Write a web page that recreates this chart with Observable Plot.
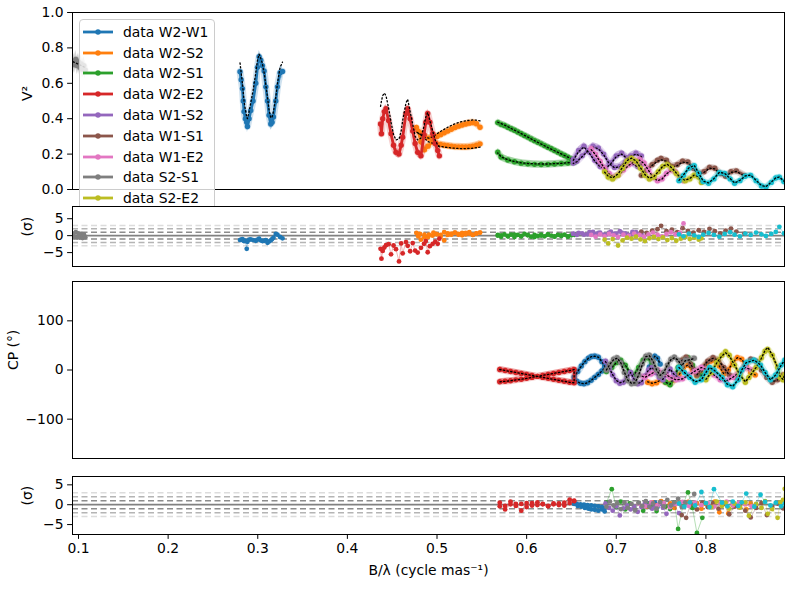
<!DOCTYPE html>
<html><head><meta charset="utf-8">
<script src="https://cdn.jsdelivr.net/npm/d3@7"></script>
<script src="https://cdn.jsdelivr.net/npm/@observablehq/plot@0.6"></script>
<style>
body{margin:0;background:#fff;}
#wrap{position:relative;width:800px;height:600px;font-family:"DejaVu Sans",sans-serif;overflow:hidden;}
</style></head><body><div id="wrap"></div>
<script>
// ---------------- data ----------------
const baselines = ["W2-W1","W2-S2","W2-S1","W2-E2","W1-S2","W1-S1","W1-E2","S2-S1","S2-E2","S1-E2"];
const colors = ["#1f77b4","#ff7f0e","#2ca02c","#d62728","#9467bd","#8c564b","#e377c2","#7f7f7f","#bcbd22","#17becf"];
const V2_ERR = [0.035,0.02,0.02,0.025,0.02,0.015,0.02,0.05,0.02,0.015];
const CP_ERR = 6;
const xTicks = [0.1,0.2,0.3,0.4,0.5,0.6,0.7,0.8];
const v2Ticks = [0,0.2,0.4,0.6,0.8,1.0];
const cpTicks = [-100,0,100];
const resTicks = [-5,0,5];

// each row: [B/lambda, value, model, residual(sigma)]
const V2_W2W1 = [[0.2802,0.665,0.715,-1.3],[0.2815,0.62,0.66,-1.2],[0.2829,0.57,0.60,-1.0],[0.2838,0.50,0.55,-1.4],[0.2847,0.44,0.50,-1.6],[0.2862,0.40,0.45,-1.5],[0.2877,0.38,0.41,-3.9],[0.2885,0.356,0.40,-1.8],[0.2903,0.40,0.44,-1.2],[0.2922,0.446,0.49,-1.1],[0.2948,0.50,0.56,-1.3],[0.2978,0.60,0.66,-1.5],[0.2997,0.69,0.73,-1.2],[0.3015,0.75,0.765,-0.9],[0.3034,0.73,0.74,-1.4],[0.3052,0.70,0.71,-1.6],[0.3071,0.67,0.66,-1.5],[0.3090,0.58,0.59,-1.3],[0.3109,0.50,0.52,-2.1],[0.3126,0.42,0.45,-1.7],[0.3145,0.37,0.405,-1.4],[0.3160,0.38,0.41,-1.0],[0.3175,0.41,0.44,-0.6],[0.3201,0.50,0.52,0.5],[0.3220,0.58,0.60,0.3],[0.3249,0.66,0.69,-0.4],[0.3276,0.667,0.72,-0.8]];
const V2_W2S2 = [[0.5480,0.258,0.24,0.9],[0.5440,0.250,0.236,0.6],[0.5400,0.245,0.233,0.2],[0.5360,0.242,0.232,1.0],[0.5320,0.240,0.231,0.4],[0.5280,0.240,0.231,0.8],[0.5240,0.241,0.232,0.3],[0.5200,0.242,0.233,0.9],[0.5160,0.244,0.235,0.6],[0.5120,0.247,0.237,0.2],[0.5080,0.250,0.240,-1.4],[0.5040,0.254,0.244,-0.3],[0.4990,0.260,0.25,0.5],[0.4950,0.270,0.262,0.0],[0.4900,0.245,0.27,-0.4],[0.4860,0.225,0.29,0.3],[0.4820,0.270,0.31,-1.2],[0.4790,0.330,0.32,-0.2],[0.4770,0.350,0.325,0.8],[0.4810,0.320,0.31,0.5],[0.4860,0.300,0.295,-0.5],[0.4910,0.290,0.29,0.3],[0.4960,0.295,0.30,0.9],[0.5000,0.300,0.315,0.4],[0.5040,0.310,0.328,0.2],[0.5080,0.320,0.34,1.0],[0.5120,0.330,0.352,0.7],[0.5160,0.340,0.362,0.3],[0.5200,0.350,0.371,0.9],[0.5240,0.358,0.378,0.5],[0.5280,0.364,0.384,0.1],[0.5320,0.370,0.388,0.8],[0.5360,0.375,0.391,0.6],[0.5400,0.378,0.393,0.2],[0.5440,0.372,0.392,0.7],[0.5480,0.352,0.388,0.9]];
const V2_W2S1 = [[0.5678,0.378,0.380,0.2],[0.5715,0.368,0.372,-0.3],[0.5752,0.362,0.364,0.4],[0.5790,0.352,0.355,-0.1],[0.5827,0.343,0.345,0.3],[0.5864,0.335,0.335,-0.4],[0.5901,0.325,0.326,0.2],[0.5939,0.315,0.316,-0.2],[0.5976,0.305,0.306,0.5],[0.6013,0.296,0.296,0.1],[0.6050,0.286,0.286,-0.3],[0.6088,0.276,0.276,0.2],[0.6125,0.267,0.266,-0.1],[0.6162,0.258,0.257,0.3],[0.6200,0.248,0.247,-0.2],[0.6237,0.239,0.237,0.4],[0.6274,0.230,0.228,0.0],[0.6311,0.220,0.219,-0.3],[0.6349,0.211,0.210,0.2],[0.6386,0.201,0.201,-0.1],[0.6423,0.192,0.192,0.3],[0.6460,0.182,0.183,-0.2],[0.6497,0.172,0.174,0.1],[0.6534,0.164,0.165,0.4],[0.6534,0.154,0.156,0.2],[0.6460,0.150,0.151,-0.3],[0.6386,0.147,0.148,0.1],[0.6311,0.144,0.146,-0.2],[0.6237,0.142,0.144,0.3],[0.6162,0.141,0.144,0.0],[0.6088,0.142,0.145,-0.4],[0.6013,0.145,0.147,0.2],[0.5939,0.149,0.151,-0.1],[0.5864,0.157,0.158,0.3],[0.5790,0.167,0.168,-0.2],[0.5715,0.183,0.185,0.1],[0.5678,0.211,0.206,0.0]];
const V2_W2E2 = [[0.4370,0.370,0.47,-3.9],[0.4380,0.315,0.50,-6.8],[0.4394,0.400,0.53,-4.5],[0.4412,0.440,0.545,-3.5],[0.4431,0.456,0.53,-2.8],[0.4460,0.390,0.46,-2.5],[0.4487,0.315,0.38,-5.5],[0.4515,0.250,0.31,-2.9],[0.4542,0.210,0.28,-4.0],[0.4576,0.200,0.285,-7.6],[0.4600,0.250,0.33,-2.3],[0.4617,0.295,0.39,-5.2],[0.4654,0.430,0.49,-1.9],[0.4673,0.456,0.51,-3.0],[0.4700,0.400,0.44,-4.6],[0.4729,0.330,0.37,-2.2],[0.4756,0.260,0.30,-4.4],[0.4784,0.210,0.28,-5.0],[0.4821,0.190,0.29,-3.6],[0.4855,0.310,0.36,-2.4],[0.4875,0.380,0.41,-1.6],[0.4896,0.430,0.435,-4.9],[0.4920,0.380,0.39,-3.1],[0.4952,0.315,0.33,-2.4],[0.4980,0.260,0.28,-1.8],[0.5008,0.220,0.25,-2.4],[0.5026,0.190,0.24,-0.9]];
const V2_W1S2 = [[0.652,0.17,0.165,0.5],[0.658,0.22,0.215,0.8],[0.664,0.245,0.24,0.3],[0.670,0.21,0.205,1.0],[0.676,0.165,0.16,0.4],[0.682,0.13,0.128,0.9],[0.688,0.12,0.118,0.2],[0.694,0.15,0.146,1.2],[0.700,0.19,0.186,0.6],[0.706,0.205,0.2,0.9],[0.712,0.18,0.176,0.3],[0.718,0.15,0.146,1.1],[0.724,0.13,0.127,0.5],[0.728,0.14,0.137,0.8],[0.728,0.19,0.186,0.4],[0.722,0.205,0.2,1.0],[0.716,0.19,0.187,0.2],[0.710,0.155,0.152,0.7],[0.704,0.13,0.128,1.3],[0.698,0.125,0.123,0.5],[0.692,0.15,0.147,0.9],[0.686,0.20,0.196,0.3],[0.680,0.235,0.23,0.8],[0.674,0.245,0.24,1.1],[0.668,0.22,0.216,0.4],[0.662,0.19,0.186,0.7],[0.656,0.16,0.157,0.2],[0.652,0.15,0.147,0.6]];
const V2_W1S1 = [[0.728,0.08,0.077,1.2],[0.734,0.11,0.106,0.8],[0.740,0.14,0.136,1.5],[0.746,0.165,0.16,1.9],[0.750,0.175,0.168,2.9],[0.756,0.165,0.16,1.3],[0.762,0.13,0.126,1.8],[0.768,0.14,0.135,1.0],[0.774,0.16,0.155,2.2],[0.780,0.155,0.151,1.4],[0.786,0.12,0.117,0.9],[0.792,0.09,0.088,1.6],[0.798,0.10,0.097,1.1],[0.804,0.125,0.121,2.0],[0.810,0.12,0.117,1.3],[0.816,0.09,0.088,0.7],[0.822,0.075,0.073,1.5],[0.828,0.10,0.097,2.1],[0.834,0.105,0.102,1.2],[0.843,0.08,0.078,0.6]];
const V2_W1E2 = [[0.672,0.23,0.225,0.2],[0.677,0.20,0.196,-0.3],[0.682,0.16,0.157,0.4],[0.687,0.12,0.118,-0.2],[0.692,0.09,0.089,0.5],[0.697,0.07,0.07,0.1],[0.702,0.08,0.079,-0.4],[0.708,0.11,0.108,0.3],[0.714,0.14,0.137,-0.1],[0.720,0.16,0.157,0.6],[0.726,0.17,0.166,0.2],[0.731,0.15,0.147,-0.3],[0.736,0.11,0.108,0.4],[0.741,0.07,0.069,0.9],[0.746,0.05,0.05,0.3],[0.751,0.06,0.059,-0.2],[0.756,0.09,0.088,0.5],[0.761,0.11,0.107,1.0],[0.766,0.10,0.098,0.4],[0.771,0.07,0.069,0.8],[0.775,0.05,0.048,3.6]];
const V2_S2S1 = [[0.0940,0.725,0.722,0.6],[0.0955,0.705,0.718,-0.4],[0.0970,0.735,0.715,1.0],[0.0985,0.700,0.711,-0.5],[0.1000,0.720,0.708,0.7],[0.1015,0.690,0.704,-0.6],[0.1030,0.710,0.700,0.5],[0.1045,0.680,0.697,-0.7],[0.1060,0.700,0.693,0.4],[0.1075,0.675,0.690,-0.5]];
const V2_S2E2 = [[0.687,0.10,0.098,-1.2],[0.691,0.07,0.075,-2.3],[0.696,0.06,0.066,-1.0],[0.702,0.08,0.088,-2.9],[0.707,0.12,0.125,-1.4],[0.712,0.16,0.163,-0.6],[0.717,0.175,0.177,-0.9],[0.722,0.16,0.162,-0.3],[0.727,0.12,0.123,-1.1],[0.732,0.08,0.084,-1.6],[0.737,0.06,0.064,-0.8],[0.742,0.07,0.073,-0.4],[0.747,0.10,0.102,-1.0],[0.752,0.13,0.132,-0.5],[0.757,0.14,0.142,-1.3],[0.762,0.12,0.122,-0.7],[0.767,0.09,0.093,-1.5],[0.772,0.06,0.063,-0.9],[0.777,0.05,0.052,-0.4],[0.782,0.06,0.062,-1.0],[0.787,0.08,0.082,-0.6],[0.792,0.07,0.072,-1.2],[0.795,0.04,0.043,-0.8]];
const V2_S1E2 = [[0.770,0.05,0.052,0.4],[0.775,0.08,0.083,-0.2],[0.781,0.12,0.122,0.6],[0.787,0.135,0.136,0.1],[0.792,0.09,0.092,-0.4],[0.797,0.045,0.047,0.3],[0.803,0.035,0.037,0.8],[0.809,0.06,0.062,0.2],[0.815,0.095,0.097,-0.3],[0.821,0.09,0.091,0.5],[0.827,0.06,0.062,1.0],[0.832,0.035,0.037,0.3],[0.838,0.05,0.052,-0.2],[0.844,0.075,0.077,0.6],[0.850,0.08,0.081,0.2],[0.856,0.05,0.052,0.9],[0.862,0.02,0.022,0.4],[0.867,0.013,0.016,-0.1],[0.873,0.04,0.042,0.5],[0.878,0.065,0.066,1.1],[0.882,0.07,0.071,2.6],[0.887,0.045,0.047,0.7]];

// closure phases (deg), same row layout
const CP_blue = [[0.653,-14,-14,0.2],[0.657,-3,-3,-0.3],[0.661,8,8,-0.5],[0.665,17,17,-0.8],[0.669,24,24,-1.0],[0.672,27,27,-1.2],[0.676,28,28,-1.3],[0.680,26,26,-1.5],[0.684,17,17,-1.2],[0.687,8,8,-1.7],[0.687,4,4,-0.9],[0.684,-2,-2,-0.6],[0.680,-9,-9,-0.4],[0.676,-15,-15,-0.3],[0.672,-21,-21,-0.2],[0.668,-26,-26,-0.1],[0.664,-28,-28,0.0],[0.660,-27,-27,0.1],[0.656,-23,-23,0.2],[0.653,-20,-20,0.3]];
const CP_blue2 = [[0.737,6,6,0.4],[0.740,20,20,-0.3],[0.743,28,28,0.5],[0.746,24,24,-0.6],[0.749,12,12,0.2]];
const CP_orange = [[0.735,-25,-24,-0.5],[0.740,-28,-27,0.6],[0.745,-26,-25,-0.2],[0.750,-20,-20,0.9],[0.755,-25,-24,-0.4],[0.760,-28,-27,0.3],[0.765,-20,-20,-0.8],[0.770,-10,-10,0.5],[0.775,5,5,-0.2],[0.780,10,10,0.7],[0.785,0,0,-0.6],[0.790,-12,-12,0.4],[0.795,-5,-5,-1.0],[0.800,10,10,0.2],[0.805,18,18,-0.5],[0.810,20,20,0.8],[0.815,8,8,-1.9],[0.820,-8,-8,0.3],[0.825,0,0,-2.2],[0.830,15,15,0.5],[0.835,25,25,-0.3],[0.840,22,22,0.6],[0.845,8,8,-1.2],[0.850,-5,-5,0.4],[0.855,-10,-10,-0.5]];
const CP_green = [[0.689,-3,-3,0.5],[0.695,5,5,3.9],[0.700,15,15,-0.6],[0.705,20,20,0.8],[0.710,10,10,-1.2],[0.715,-5,-5,0.3],[0.720,-10,-10,-0.9],[0.725,5,5,0.4],[0.730,20,20,-1.5],[0.735,25,25,0.2],[0.740,15,15,-0.7],[0.745,0,0,-1.6],[0.750,-15,-15,0.5],[0.755,-25,-25,-0.4],[0.760,-30,-29,-1.1],[0.765,-15,-15,0.6],[0.769,5,5,-6.1],[0.775,20,20,0.4],[0.780,25,25,3.1],[0.785,10,10,-0.8],[0.790,-5,-5,-7.1],[0.796,-12,-12,-3.3]];
const CP_red = [[0.570,1,1,0.5],[0.576,-1,-1,-0.3],[0.582,-3,-3,0.8],[0.588,-5,-5,0.2],[0.594,-7,-7,-1.5],[0.600,-9,-9,0.4],[0.606,-11,-11,-0.2],[0.612,-13,-13,0.6],[0.618,-15,-15,0.1],[0.624,-17,-17,-0.4],[0.630,-19,-19,0.3],[0.636,-21,-21,-0.1],[0.642,-23,-23,0.5],[0.648,-25,-25,1.3],[0.653,-26,-26,0.9],[0.653,1,1,1.0],[0.648,-1,-1,0.4],[0.642,-3,-3,-0.2],[0.636,-5,-5,0.3],[0.630,-7,-7,0.1],[0.624,-9,-9,-0.3],[0.618,-11,-11,0.2],[0.612,-13,-13,-0.1],[0.606,-15,-15,0.4],[0.600,-17,-17,-0.6],[0.594,-19,-19,0.2],[0.588,-20,-20,-0.3],[0.582,-22,-22,0.1],[0.576,-23,-23,-1.2],[0.570,-24,-24,-0.4]];
const CP_purple = [[0.688,18,17,0.3],[0.692,5,5,-0.8],[0.696,-10,-10,-1.5],[0.700,-22,-21,-0.4],[0.704,-27,-26,-2.7],[0.708,-25,-24,-0.9],[0.712,-15,-15,-0.2],[0.716,-5,-5,-1.2],[0.720,-20,-19,-0.5],[0.724,-28,-27,-1.8],[0.728,-26,-25,-0.6],[0.732,-12,-12,0.4],[0.736,0,0,-0.3],[0.740,5,5,-1.0],[0.744,-5,-5,-0.4],[0.748,-15,-14,0.2],[0.752,-20,-19,-0.7],[0.756,-10,-10,-2.3],[0.760,2,2,-0.5],[0.764,-8,-8,0.1],[0.770,-18,-17,-2.1]];
const CP_brown = [[0.773,20,19,-2.6],[0.778,26,25,-3.3],[0.783,12,12,0.3],[0.790,-10,-10,-1.2],[0.796,5,5,0.5],[0.802,18,18,-0.6],[0.808,25,24,0.4],[0.814,20,20,-1.0],[0.820,5,5,0.3],[0.826,-10,-10,-2.4],[0.832,-15,-15,-0.5],[0.838,-5,-5,0.2],[0.844,10,10,-1.5],[0.850,22,21,-3.2],[0.856,18,18,-0.8],[0.862,0,0,0.4],[0.868,-15,-15,-2.6],[0.874,-25,-24,-0.6],[0.880,-20,-20,0.3],[0.886,-10,-10,-0.9]];
const CP_pink = [[0.725,-10,-10,0.3],[0.732,-15,-15,-0.4],[0.739,-8,-8,0.6],[0.746,0,0,-0.2],[0.753,-5,-5,0.4],[0.760,-15,-15,-0.6],[0.767,-20,-20,0.2],[0.774,-18,-18,0.7],[0.781,-10,-10,-0.3],[0.788,-2,-2,0.5],[0.795,5,5,-0.1],[0.802,0,0,0.4],[0.809,-10,-10,-0.5],[0.816,-20,-20,0.3],[0.823,-22,-22,0.8],[0.830,-15,-15,-0.2],[0.837,-5,-5,0.5],[0.844,5,5,0.1],[0.851,0,0,-0.4]];
const CP_gray = [[0.689,0,0,-0.5],[0.693,12,12,0.8],[0.697,22,21,-0.2],[0.701,25,24,0.4],[0.705,15,15,-1.1],[0.709,-5,-4,0.6],[0.713,-22,-21,-0.8],[0.717,-28,-27,0.2],[0.721,-27,-26,-1.4],[0.725,-10,-10,0.5],[0.729,12,11,-0.3],[0.733,28,27,0.9],[0.737,30,29,-0.6],[0.741,18,18,0.3],[0.745,0,0,-1.0],[0.749,-12,-11,0.7],[0.753,-5,-5,-0.4],[0.757,10,10,1.2],[0.761,22,21,-0.2],[0.765,26,25,0.6],[0.769,20,20,1.5],[0.773,8,8,-0.5],[0.777,20,19,0.6],[0.787,24,23,2.7]];
const CP_olive = [[0.800,-20,-19,0.4],[0.806,-5,-5,-0.6],[0.812,15,14,0.8],[0.818,30,29,-0.3],[0.822,37,35,0.5],[0.826,30,29,-1.0],[0.832,10,10,0.3],[0.838,-10,-10,-0.7],[0.844,-25,-24,0.6],[0.848,-15,-15,-2.75],[0.856,5,5,0.2],[0.862,25,24,-0.8],[0.866,38,40,0.9],[0.869,42,46,-2.3],[0.874,30,31,-1.1],[0.880,5,5,-3.3],[0.883,-15,-14,0.6],[0.886,-20,-19,1.2],[0.888,-10,-9,4.0]];
const CP_cyan = [[0.770,5,5,0.3],[0.776,-5,-5,-0.5],[0.782,-15,-15,0.6],[0.788,-25,-24,-0.2],[0.795,-20,-20,3.2],[0.800,-5,-5,0.4],[0.804,5,5,-0.6],[0.809,0,0,3.9],[0.818,-15,-15,0.5],[0.824,-30,-29,-0.4],[0.830,-34,-33,0.8],[0.836,-20,-20,-0.3],[0.840,0,0,0.6],[0.845,15,15,2.8],[0.854,20,20,-0.5],[0.861,10,10,2.5],[0.866,-5,-5,0.7],[0.872,-20,-20,-0.2],[0.878,-10,-10,0.5],[0.884,10,10,-0.4],[0.888,20,20,0.3]];

// ---------------- drawing ----------------
const v2Series = [V2_W2W1,V2_W2S2,V2_W2S1,V2_W2E2,V2_W1S2,V2_W1S1,V2_W1E2,V2_S2S1,V2_S2E2,V2_S1E2];
const cpSeries = [[CP_blue,0],[CP_blue2,0],[CP_orange,1],[CP_green,2],[CP_red,3],[CP_purple,4],[CP_brown,5],[CP_pink,6],[CP_gray,7],[CP_olive,8],[CP_cyan,9]];
const X_DOMAIN = [0.0933, 0.8877];
const FONT = "DejaVu Sans, sans-serif";
const wrap = document.getElementById("wrap");

function seriesMarks(data, color, err) {
  const X = d => d[0];
  return [
    Plot.areaY(data, {x: X, y1: d => d[1] - err, y2: d => d[1] + err, fill: color, fillOpacity: 0.3, clip: true}),
    Plot.line(data, {x: X, y: d => d[1], stroke: color, strokeWidth: 7, strokeOpacity: 0.22, clip: true}),
    Plot.line(data, {x: X, y: d => d[1], stroke: color, strokeWidth: 2.8, clip: true}),
    Plot.dot(data, {x: X, y: d => d[1], r: 2.7, fill: color, clip: true}),
    Plot.line(data, {x: X, y: d => d[2], stroke: "black", strokeWidth: 1.3, strokeDasharray: "1.3,2.4", clip: true})
  ];
}
function residMarks(data, color) {
  return [
    Plot.line(data, {x: d => d[0], y: d => d[3], stroke: color, strokeWidth: 1, strokeOpacity: 0.35, clip: true}),
    Plot.dot(data, {x: d => d[0], y: d => d[3], r: 2.4, fill: color, clip: true})
  ];
}
function refLines() {
  const dash = "6,3.5";
  return [
    Plot.ruleY([-3, 3], {stroke: "#dcdcdc", strokeWidth: 1.5, strokeDasharray: dash}),
    Plot.ruleY([-2, 2], {stroke: "#b4b4b4", strokeWidth: 1.5, strokeDasharray: dash}),
    Plot.ruleY([-1, 1], {stroke: "#8c8c8c", strokeWidth: 1.5, strokeDasharray: dash}),
    Plot.ruleY([0], {stroke: "#808080", strokeWidth: 1.8})
  ];
}
function panel({top, height, mt, mb, yDomain, yTicks, yFmt, label, labelDx, marks, bottomAxis}) {
  const chart = Plot.plot({
    width: 800, height, marginTop: mt, marginBottom: mb, marginLeft: 72, marginRight: 16,
    style: {background: "transparent", fontFamily: FONT, fontSize: "13.9px", color: "black"},
    x: {domain: X_DOMAIN, axis: null},
    y: {domain: yDomain, axis: null},
    marks: [
      Plot.frame({fill: "white"}),
      ...marks,
      Plot.axisY({ticks: yTicks, tickFormat: yFmt, tickSize: 4.9, tickPadding: 4, label: null}),
      bottomAxis ? Plot.axisX({ticks: xTicks, tickFormat: ".1f", tickSize: 4.9, tickPadding: 4, label: null}) : null,
      Plot.text([label], {frameAnchor: "left", dx: labelDx, rotate: -90, fontSize: 13.9}),
      bottomAxis ? Plot.text(["B/λ (cycle mas⁻¹)"], {frameAnchor: "bottom", dy: 40, fontSize: 13.9}) : null,
      Plot.frame({stroke: "black", strokeWidth: 1})
    ]
  });
  chart.style.position = "absolute";
  chart.style.left = "0px";
  chart.style.top = top + "px";
  wrap.appendChild(chart);
}

// panel 1: V2
panel({top: 0, height: 198, mt: 12, mb: 9, yDomain: [0, 1], yTicks: v2Ticks, yFmt: ".1f", label: "V²", labelDx: -45,
  marks: v2Series.flatMap((s, i) => seriesMarks(s, colors[i], V2_ERR[i]))});

// legend (overlapping panel 1, partly hidden by panel 2)
const leg = document.createElement("div");
leg.style.cssText = "position:absolute;left:79px;top:19px;width:136px;height:215px;background:rgba(255,255,255,0.8);border:1px solid #cccccc;border-radius:4px;box-sizing:border-box;";
baselines.forEach((b, i) => {
  const cy = 11.7 + i * 20.8;
  const row = document.createElement("div");
  row.style.cssText = `position:absolute;left:3px;top:${cy - 8}px;height:16px;width:130px;`;
  row.innerHTML = `<svg width="32" height="16" style="position:absolute;left:0;top:0"><line x1="0" x2="30" y1="8" y2="8" stroke="${colors[i]}" stroke-width="2.8"/><circle cx="15" cy="8" r="2.7" fill="${colors[i]}"/></svg>` +
    `<span style="position:absolute;left:40px;top:0;line-height:16px;font-size:13.9px;font-family:'DejaVu Sans';color:#000;white-space:nowrap">data ${b}</span>`;
  leg.appendChild(row);
});
wrap.appendChild(leg);

// panel 2: V2 residuals
panel({top: 196, height: 72, mt: 10, mb: 2, yDomain: [-9.1, 8.6], yTicks: resTicks, yFmt: null, label: "(σ)", labelDx: -44.5,
  marks: [...refLines(), ...v2Series.flatMap((s, i) => residMarks(s, colors[i]))]});

// panel 3: closure phase
panel({top: 270, height: 190, mt: 11, mb: 2, yDomain: [-180, 180], yTicks: cpTicks, yFmt: null, label: "CP (°)", labelDx: -59,
  marks: cpSeries.flatMap(([s, c]) => seriesMarks(s, colors[c], CP_ERR))});

// panel 4: CP residuals
panel({top: 466, height: 134, mt: 10, mb: 66, yDomain: [-7.5, 7.1], yTicks: resTicks, yFmt: null, label: "(σ)", labelDx: -45, bottomAxis: true,
  marks: [...refLines(), ...cpSeries.flatMap(([s, c]) => residMarks(s, colors[c]))]});
</script></body></html>
